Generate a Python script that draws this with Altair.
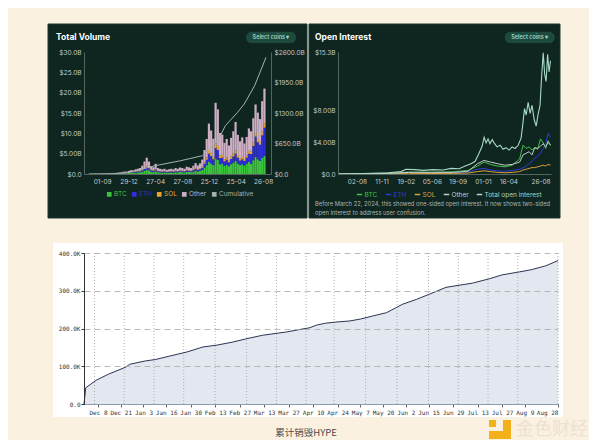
import json
import altair as alt
import pandas as pd

FONT = "Inter"
MONO = "DejaVu Sans Mono"
CJK = "Noto Sans CJK SC"
PANEL = "#0f2520"
PANEL_EDGE = "#1d3832"
AXIS_TXT = "#c3cdc9"
AXIS_LINE = "#55645f"
CREAM = "#fbf1e1"

# ---------------- Total Volume (10-day bins, $B) ----------------
vol_bin_start = "2023-07-04"
vol_btc = [0.02, 0.02, 0.03, 0.03, 0.02, 0.03, 0.04, 0.03, 0.04, 0.05,
           0.05, 0.06, 0.08, 0.10, 0.12, 0.15, 0.20, 0.18, 0.25, 0.30,
           0.28, 0.35, 0.40, 0.45, 0.60, 0.80, 1.10, 0.90, 0.60, 0.50,
           0.70, 0.45, 0.40, 0.35, 0.40, 0.30, 0.35, 0.40, 0.35, 0.45,
           0.40, 0.50, 0.45, 0.40, 0.55, 0.50, 0.45, 0.60, 0.80, 0.65,
           0.75, 1.00, 1.60, 2.20, 3.00, 2.60, 2.20, 3.80, 3.50, 2.40,
           2.60, 2.00, 2.30, 1.90, 2.40, 2.80, 3.20, 2.60, 2.20, 2.40,
           2.10, 2.60, 3.00, 2.50, 3.40, 4.20, 3.60, 3.20, 4.00, 4.40]
vol_eth = [0.01, 0.01, 0.01, 0.01, 0.01, 0.01, 0.02, 0.02, 0.02, 0.02,
           0.02, 0.03, 0.04, 0.05, 0.06, 0.08, 0.10, 0.09, 0.12, 0.15,
           0.14, 0.18, 0.20, 0.22, 0.30, 0.45, 0.60, 0.50, 0.30, 0.25,
           0.35, 0.22, 0.20, 0.18, 0.20, 0.15, 0.18, 0.20, 0.18, 0.22,
           0.20, 0.25, 0.22, 0.20, 0.28, 0.25, 0.22, 0.30, 0.40, 0.32,
           0.40, 0.50, 0.90, 1.30, 2.00, 1.80, 1.40, 2.60, 2.40, 1.50,
           1.40, 1.10, 1.20, 1.00, 1.30, 1.50, 1.80, 1.40, 1.10, 1.20,
           1.10, 1.40, 2.00, 2.40, 3.50, 5.00, 4.20, 4.00, 5.50, 7.00]
vol_sol = [0.00, 0.00, 0.00, 0.00, 0.00, 0.00, 0.01, 0.01, 0.01, 0.01,
           0.01, 0.01, 0.02, 0.02, 0.03, 0.03, 0.04, 0.04, 0.05, 0.06,
           0.06, 0.08, 0.10, 0.10, 0.15, 0.22, 0.30, 0.25, 0.15, 0.12,
           0.15, 0.10, 0.08, 0.08, 0.09, 0.07, 0.08, 0.09, 0.08, 0.10,
           0.09, 0.10, 0.10, 0.09, 0.12, 0.10, 0.10, 0.13, 0.18, 0.14,
           0.18, 0.25, 0.40, 0.60, 0.90, 0.80, 0.60, 1.10, 1.00, 0.70,
           0.70, 0.55, 0.60, 0.50, 0.60, 0.70, 0.80, 0.65, 0.55, 0.60,
           0.50, 0.60, 0.70, 0.60, 0.80, 0.90, 0.80, 0.70, 0.90, 1.10]
vol_other = [0.02, 0.03, 0.03, 0.04, 0.03, 0.04, 0.05, 0.05, 0.06, 0.07,
             0.08, 0.09, 0.12, 0.15, 0.18, 0.22, 0.30, 0.28, 0.35, 0.45,
             0.40, 0.55, 0.60, 0.70, 1.00, 1.60, 2.00, 1.40, 0.90, 0.80,
             1.30, 0.70, 0.60, 0.55, 0.60, 0.50, 0.55, 0.60, 0.55, 0.70,
             0.60, 0.75, 0.70, 0.60, 0.85, 0.80, 0.70, 1.00, 1.30, 1.00,
             1.30, 1.80, 3.00, 4.50, 6.50, 5.50, 4.50, 10.0, 9.00, 5.50,
             5.00, 4.00, 4.50, 3.60, 4.60, 5.50, 7.00, 5.00, 4.20, 4.80,
             3.80, 4.50, 5.50, 5.00, 6.00, 7.00, 6.50, 5.60, 7.50, 8.50]
vol_series = ["BTC", "ETH", "SOL", "Other"]
vol_colors = ["#3dc43d", "#2f2fd8", "#e8a33a", "#cdaec3"]
cum_dates = ["2023-07-04", "2023-10-01", "2023-12-21", "2024-04-27", "2024-08-20",
             "2024-11-26", "2024-12-26", "2025-02-07", "2025-03-09", "2025-05-03",
             "2025-06-02", "2025-07-19", "2025-09-08"]
cum_values = [0, 5, 20, 177, 284, 390, 532, 746, 1030, 1314, 1492, 1883, 2486]
cum_color = "#a3b3ad"
vol_ticks = [0, 5, 10, 15, 20, 25, 30]
vol_tick_labels = ["$0.0", "$5.00B", "$10.0B", "$15.0B", "$20.0B", "$25.0B", "$30.0B"]
cum_ticks = [0, 650, 1300, 1950, 2600]
cum_tick_labels = ["$0.0", "$650.0B", "$1300.0B", "$1950.0B", "$2600.0B"]
vol_x_ticks = ["2023-09-01", "2023-12-29", "2024-04-27", "2024-08-27",
               "2024-12-25", "2025-04-25", "2025-08-26"]

# ---------------- Open Interest ($B) ----------------
oi_total_dates = ["2023-05-16", "2023-08-27", "2023-12-08", "2024-01-30", "2024-02-20",
                  "2024-03-28", "2024-04-30", "2024-06-10", "2024-07-21", "2024-08-23",
                  "2024-09-25", "2024-10-20", "2024-11-13", "2024-11-30", "2024-12-16",
                  "2024-12-29", "2025-01-06", "2025-01-14", "2025-01-22", "2025-01-30",
                  "2025-02-08", "2025-02-16", "2025-02-28", "2025-03-13", "2025-03-25",
                  "2025-04-06", "2025-04-19", "2025-05-01", "2025-05-13", "2025-05-26",
                  "2025-06-07", "2025-06-15", "2025-06-21", "2025-06-28", "2025-07-06",
                  "2025-07-14", "2025-07-22", "2025-07-31", "2025-08-08", "2025-08-16",
                  "2025-08-24", "2025-08-30", "2025-09-06", "2025-09-12", "2025-09-18",
                  "2025-09-24", "2025-09-30", "2025-10-06"]
oi_total = [0.0, 0.05, 0.15, 0.3, 0.6, 0.55, 0.45, 0.55, 0.5, 0.7,
            0.65, 1.0, 1.3, 1.6, 2.6, 3.5, 4.6, 3.9, 4.4, 3.8,
            4.3, 3.9, 3.4, 3.6, 3.1, 3.3, 3.0, 3.4, 3.2, 3.6,
            4.5, 6.5, 8.2, 7.4, 9.0, 7.6, 8.6, 6.8, 6.0, 7.5,
            8.6, 12.0, 15.2, 12.5, 11.6, 15.0, 12.8, 14.2]
oi_comp_dates = ["2023-05-16", "2023-09-01", "2024-01-01", "2024-03-01", "2024-06-01",
                 "2024-09-01", "2024-11-01", "2024-12-10", "2025-01-06", "2025-02-01",
                 "2025-03-01", "2025-04-01", "2025-05-01", "2025-06-01", "2025-06-15",
                 "2025-06-28", "2025-07-10", "2025-07-22", "2025-08-02", "2025-08-14",
                 "2025-08-26", "2025-09-06", "2025-09-16", "2025-09-26", "2025-10-06"]
oi_btc = [0, 0.02, 0.1, 0.25, 0.22, 0.28, 0.45, 1.0, 1.5, 1.2, 1.0, 0.9, 1.1, 1.9, 3.6,
          3.2, 3.4, 3.0, 3.3, 3.1, 4.4, 3.9, 3.2, 4.2, 3.6]
oi_eth = [0, 0.01, 0.05, 0.15, 0.12, 0.15, 0.25, 0.6, 0.7, 0.5, 0.4, 0.35, 0.45, 0.6, 0.8,
          1.0, 1.3, 1.6, 2.0, 2.2, 2.6, 3.2, 3.8, 5.1, 4.6]
oi_sol = [0, 0.01, 0.03, 0.08, 0.06, 0.07, 0.12, 0.3, 0.4, 0.3, 0.2, 0.15, 0.2, 0.3, 0.5,
          0.6, 0.7, 0.8, 0.8, 0.9, 1.0, 1.1, 1.0, 1.2, 1.1]
oi_other = [0, 0.02, 0.1, 0.2, 0.2, 0.2, 0.35, 1.3, 1.7, 1.5, 1.3, 1.1, 1.2, 1.5, 2.4,
            2.6, 2.8, 2.4, 3.3, 3.2, 3.5, 3.8, 3.4, 4.0, 3.6]
oi_series = ["BTC", "ETH", "SOL", "Other", "Total open interest"]
oi_colors = ["#44c04a", "#2e3bd6", "#d9a23c", "#c3ccc9", "#a6d9c6"]
oi_ticks = [0, 4, 8, 15.3]
oi_tick_labels = ["$0.0", "$4.00B", "$8.00B", "$15.3B"]
oi_x_ticks = ["2023-08-02", "2023-11-11", "2024-02-19", "2024-06-05",
              "2024-09-19", "2025-01-01", "2025-04-16", "2025-08-26"]
oi_note = ["Before March 22, 2024, this showed one-sided open interest. It now shows two-sided",
           "open interest to address user confusion."]

# ---------------- Cumulative HYPE burned ----------------
burn_dates = ["2024-11-30", "2024-12-01", "2024-12-07", "2024-12-14", "2024-12-24",
              "2024-12-26", "2025-01-04", "2025-01-10", "2025-01-18", "2025-01-28",
              "2025-02-06", "2025-02-14", "2025-02-23", "2025-03-03", "2025-03-12",
              "2025-03-26", "2025-04-02", "2025-04-08", "2025-04-12", "2025-04-17",
              "2025-04-23", "2025-05-01", "2025-05-07", "2025-05-14", "2025-05-22",
              "2025-05-31", "2025-06-08", "2025-06-15", "2025-06-25", "2025-07-03",
              "2025-07-10", "2025-07-20", "2025-07-27", "2025-08-06", "2025-08-13",
              "2025-08-21", "2025-08-28"]
burn_values = [0, 43000, 63000, 79000, 98000, 105000, 114000, 118000, 127000, 138000,
               151000, 156000, 164000, 173000, 182000, 191000, 197000, 202000, 209000, 214000,
               217000, 220000, 225000, 233000, 242000, 264000, 277000, 290000, 309000, 315000,
               320000, 332000, 342000, 350000, 356000, 366000, 380000]
burn_ticks = [0, 100000, 200000, 300000, 400000]
burn_tick_labels = ["0.0", "100.0K", "200.0K", "300.0K", "400.0K"]
burn_x_ticks = ["2024-12-08", "2024-12-21", "2025-01-03", "2025-01-16", "2025-01-30",
                "2025-02-13", "2025-02-27", "2025-03-13", "2025-03-27", "2025-04-10",
                "2025-04-24", "2025-05-07", "2025-05-20", "2025-06-02", "2025-06-15",
                "2025-06-29", "2025-07-13", "2025-07-27", "2025-08-09", "2025-08-28"]
burn_grid_dates = ["2024-12-06", "2024-12-23", "2025-01-09", "2025-01-26", "2025-02-13",
                   "2025-03-03", "2025-03-20", "2025-04-06", "2025-04-22", "2025-05-10",
                   "2025-05-28", "2025-06-15", "2025-07-02", "2025-07-19", "2025-08-05",
                   "2025-08-28"]
caption_text = "累计销毁HYPE"
watermark_text = "金色财经"


# ---------------- helpers ----------------
def lab_expr(ticks, labels):
    return f"{json.dumps(labels)}[indexof({json.dumps(ticks)}, datum.value)]"


def color_expr(names, colors):
    return f"{json.dumps(colors)}[indexof({json.dumps(names)}, datum.label)]"


def dt(s):
    y, m, d = map(int, s.split("-"))
    return alt.DateTime(year=y, month=m, date=d)


def ts(s):
    return s + "T00:00:00"


one = pd.DataFrame({"k": [0]})


def box(x1, x2, y1, y2, **kw):
    return alt.Chart(one).mark_rect(**kw).encode(
        x=alt.value(x1), x2=alt.value(x2), y=alt.value(y1), y2=alt.value(y2))


def label(txt, x, y, **kw):
    return alt.Chart(one).mark_text(text=txt, **kw).encode(x=alt.value(x), y=alt.value(y))


def pill(cx, cy):
    return [box(cx - 25, cx + 25, cy - 5.6, cy + 5.6, fill="#1c4a3f", cornerRadius=6),
            label("Select coins  \u25be", cx, cy, font=FONT, fontSize=5.5, fontWeight=600,
                  color="#9cd6c2", baseline="middle")]


def panel_title(txt, x):
    return label(txt, x, -15, font=FONT, fontSize=8.5, fontWeight="bold", color="#ffffff",
                 align="left", baseline="middle")


dark_axis = dict(labelColor=AXIS_TXT, labelFont=FONT, labelFontSize=6.5, domainColor=AXIS_LINE,
                 ticks=False, grid=False, title=None, zindex=1, labelOverlap=False,
                 tickCount=60)

# ---------------- Volume panel ----------------
bin_dates = pd.date_range(vol_bin_start, periods=len(vol_btc), freq="10D")
rows = []
for k, (name, vals) in enumerate(zip(vol_series, [vol_btc, vol_eth, vol_sol, vol_other])):
    for d, v in zip(bin_dates, vals):
        rows.append({"date": d.strftime("%Y-%m-%dT00:00:00"), "series": name, "value": v, "ord": k})
vol_df = pd.DataFrame(rows)
cum_df = pd.DataFrame({"date": [ts(s) for s in cum_dates], "value": cum_values,
                       "series": "Cumulative"})

vol_names = vol_series + ["Cumulative"]
vol_cols = vol_colors + [cum_color]
vol_color = alt.Color("series:N", scale=alt.Scale(domain=vol_names, range=vol_cols),
                      legend=alt.Legend(orient="none", legendX=22, legendY=139,
                                        direction="horizontal", title=None, symbolType="square",
                                        symbolSize=22, symbolStrokeWidth=0, labelFont=FONT,
                                        labelFontSize=6.5, columnPadding=4, labelOffset=1.5,
                                        labelColor=alt.ExprRef(expr=color_expr(vol_names, vol_cols))))
vol_x = alt.X("date:T", scale=alt.Scale(domain=[dt("2023-07-04"), dt("2025-09-08")]),
              axis=alt.Axis(values=[dt(s) for s in vol_x_ticks], format="%d-%m",
                            labelPadding=4, **dark_axis))

bars = alt.Chart(vol_df).mark_bar(size=2.2).encode(
    x=vol_x,
    y=alt.Y("value:Q", stack="zero", scale=alt.Scale(domain=[0, 30], nice=False),
            axis=alt.Axis(values=vol_ticks, labelExpr=lab_expr(vol_ticks, vol_tick_labels),
                          labelPadding=3, **dark_axis)),
    color=vol_color,
    order=alt.Order("ord:Q", sort="ascending"),
)
cum_line = alt.Chart(cum_df).mark_line(strokeWidth=1).encode(
    x=alt.X("date:T"),
    y=alt.Y("value:Q", scale=alt.Scale(domain=[0, 2600], nice=False),
            axis=alt.Axis(orient="right", values=cum_ticks,
                          labelExpr=lab_expr(cum_ticks, cum_tick_labels), labelLimit=32,
                          labelPadding=3, **dark_axis)),
    color=vol_color,
)

vol_chart = alt.layer(
    box(-36, 223, -28, 166, fill=PANEL, stroke=PANEL_EDGE, strokeWidth=1),
    panel_title("Total Volume", -28),
    *pill(187, -14.6),
    bars, cum_line,
).resolve_scale(y="independent").properties(width=187, height=122)

# ---------------- Open interest panel ----------------
oi_rows = []
for name, vals in zip(oi_series[:4], [oi_btc, oi_eth, oi_sol, oi_other]):
    for d, v in zip(oi_comp_dates, vals):
        oi_rows.append({"date": ts(d), "coin": name, "value": v})
oi_comp_df = pd.DataFrame(oi_rows)
oi_tot_df = pd.DataFrame({"date": [ts(s) for s in oi_total_dates], "value": oi_total,
                          "coin": oi_series[4]})

oi_color = alt.Color("coin:N", scale=alt.Scale(domain=oi_series, range=oi_colors),
                     legend=alt.Legend(orient="none", legendX=18, legendY=139,
                                       direction="horizontal", title=None, symbolType="stroke",
                                       symbolSize=30, symbolStrokeWidth=1.5, labelFont=FONT,
                                       labelFontSize=6.5, columnPadding=4, labelOffset=1.5,
                                       labelColor=alt.ExprRef(expr=color_expr(oi_series, oi_colors))))
oi_x = alt.X("date:T", scale=alt.Scale(domain=[dt("2023-05-16"), dt("2025-10-08")]),
             axis=alt.Axis(values=[dt(s) for s in oi_x_ticks], format="%d-%m",
                           labelPadding=4, **dark_axis))
oi_y = alt.Y("value:Q", scale=alt.Scale(domain=[0, 15.3], nice=False),
             axis=alt.Axis(values=oi_ticks, labelExpr=lab_expr(oi_ticks, oi_tick_labels),
                           labelPadding=3, **dark_axis))

oi_comp = alt.Chart(oi_comp_df).mark_line(strokeWidth=1).encode(x=oi_x, y=oi_y, color=oi_color)
oi_tot = alt.Chart(oi_tot_df).mark_line(strokeWidth=1.1).encode(x="date:T", y="value:Q",
                                                                 color=oi_color)
oi_chart = alt.layer(
    box(-29, 222, -28, 166, fill=PANEL, stroke=PANEL_EDGE, strokeWidth=1),
    panel_title("Open Interest", -23),
    *pill(191.7, -14.6),
    oi_comp, oi_tot,
    label(oi_note, -23, 149, font=FONT, fontSize=5.8, color="#a9b5b1", align="left",
          baseline="top", lineHeight=9),
).properties(width=213, height=122)

# ---------------- Burn chart ----------------
burn_df = pd.DataFrame({"date": [ts(s) for s in burn_dates], "value": burn_values})
grid_df = pd.DataFrame({"date": [ts(s) for s in burn_grid_dates]})
burn_x = alt.X("date:T", scale=alt.Scale(domain=[dt("2024-11-30"), dt("2025-08-28")]),
               axis=alt.Axis(values=[dt(s) for s in burn_x_ticks], format="%b %-d",
                             labelFont=MONO, labelFontSize=6, labelColor="#333333",
                             labelOverlap=False, tickCount=60, domainColor="#8d9ab4",
                             tickColor="#666666", tickSize=3, labelPadding=2, grid=False,
                             title=None, zindex=1))
burn_y = alt.Y("value:Q", scale=alt.Scale(domain=[0, 400000], nice=False),
               axis=alt.Axis(values=burn_ticks, labelExpr=lab_expr(burn_ticks, burn_tick_labels),
                             labelFont=MONO, labelFontSize=6, labelColor="#333333",
                             labelOverlap=False, tickCount=60, domainColor="#333333",
                             tickColor="#333333", tickSize=3, labelPadding=1, grid=True,
                             gridDash=[6, 4], gridColor="#a8a8a8", gridWidth=0.8, title=None,
                             zindex=1))

burn_chart = alt.layer(
    box(-31, 479, -10, 164, fill="#ffffff"),
    alt.Chart(burn_df).mark_area(color="#e3e7f0", opacity=1).encode(x=burn_x, y=burn_y),
    alt.Chart(grid_df).mark_rule(color="#a0a0a0", strokeDash=[1, 2], strokeWidth=0.8).encode(
        x="date:T"),
    alt.Chart(burn_df).mark_line(color="#2b3552", strokeWidth=1).encode(x="date:T", y="value:Q"),
    label(caption_text, 222, 180, font=CJK, fontSize=9.5, color="#4a4a4a", baseline="middle"),
    box(405, 427, 178, 186, fill="#f3b21c"),
    box(419, 427, 167, 186, fill="#f3b21c"),
    box(405, 412, 167, 174, fill="#f3b21c"),
    label(watermark_text, 432, 177, font=CJK, fontSize=18, color="#ebe2d4", align="left",
          baseline="middle"),
).properties(width=474, height=151)

top = alt.hconcat(vol_chart, oi_chart, spacing=0).resolve_scale(
    color="independent").resolve_legend(color="independent")
chart = alt.vconcat(top, burn_chart, spacing=23).properties(
    background=CREAM,
    padding={"left": 39, "top": 15, "right": 0, "bottom": 0},
).configure_view(stroke="transparent")

chart.save("out.html", embed_options={"renderer": "svg", "actions": False})
